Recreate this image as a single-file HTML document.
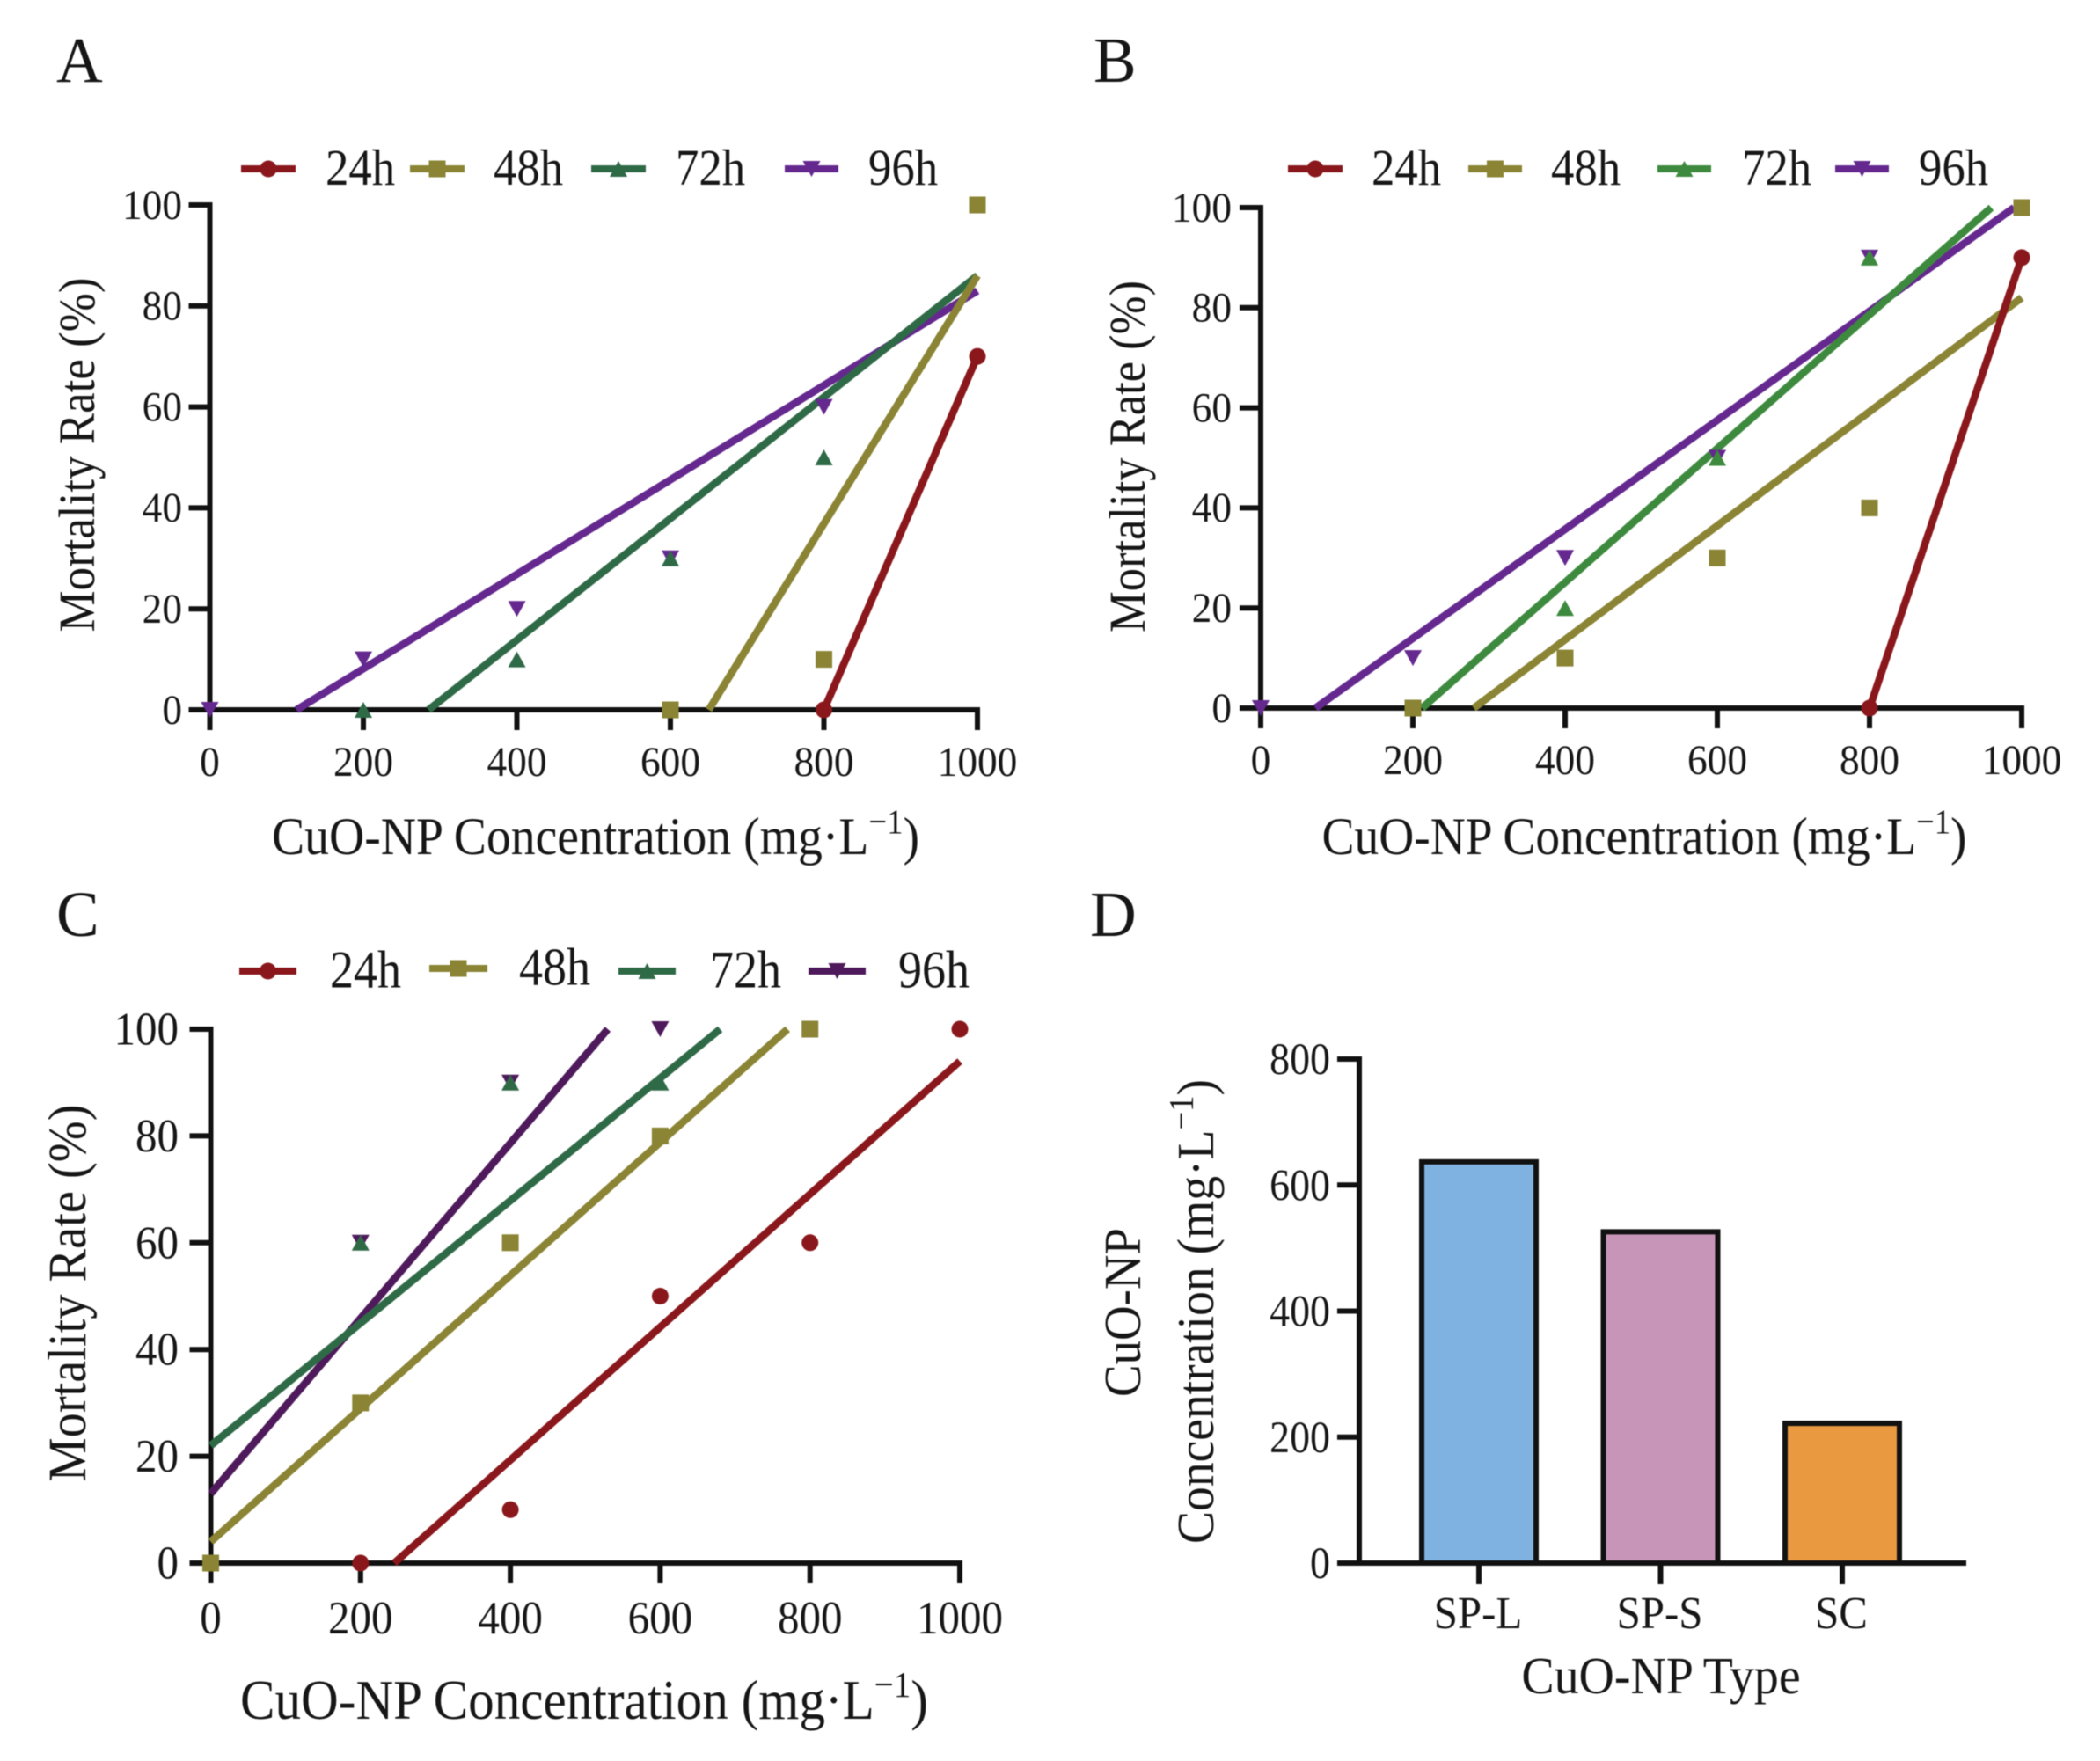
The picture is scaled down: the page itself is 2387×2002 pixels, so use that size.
<!DOCTYPE html>
<html>
<head>
<meta charset="utf-8">
<title>CuO-NP mortality charts</title>
<style>
html,body{margin:0;padding:0;background:#fff;}
svg{display:block;filter:blur(0.6px);}
text{font-family:"Liberation Serif",serif;fill:#161616;}
</style>
</head>
<body>
<svg id="figure" xmlns="http://www.w3.org/2000/svg" width="2387" height="2002" viewBox="0 0 2387 2002"></svg>
<script>
// Shared tick labels and series names
const concentrationTicks = [0, 200, 400, 600, 800, 1000];
const mortalityTicks = [0, 20, 40, 60, 80, 100];
const seriesNames = ['24h', '48h', '72h', '96h'];

// Panel A: measured points
const a24x = [800, 1000];
const a24y = [0, 70];
const a48x = [600, 800, 1000];
const a48y = [0, 10, 100];
const a72x = [200, 400, 600, 800];
const a72y = [0, 10, 30, 50];
const a96x = [0, 200, 400, 600, 800];
const a96y = [0, 10, 20, 30, 60];
// Panel A: fit lines
const a24fitX = [800, 1000];
const a24fitY = [0, 70];
const a48fitX = [650, 1000];
const a48fitY = [0, 86];
const a72fitX = [285, 1000];
const a72fitY = [0, 86];
const a96fitX = [113, 1000];
const a96fitY = [0, 83];

// Panel B: measured points
const b24x = [800, 1000];
const b24y = [0, 90];
const b48x = [200, 400, 600, 800, 1000];
const b48y = [0, 10, 30, 40, 100];
const b72x = [400, 600, 800];
const b72y = [20, 50, 90];
const b96x = [0, 200, 400, 600, 800];
const b96y = [0, 10, 30, 50, 90];
// Panel B: fit lines
const b24fitX = [800, 1000];
const b24fitY = [0, 90];
const b48fitX = [280, 1000];
const b48fitY = [0, 82];
const b72fitX = [212, 960];
const b72fitY = [0, 100];
const b96fitX = [72, 990];
const b96fitY = [0, 100];

// Panel C: measured points
const c24x = [200, 400, 600, 800, 1000];
const c24y = [0, 10, 50, 60, 100];
const c48x = [0, 200, 400, 600, 800];
const c48y = [0, 30, 60, 80, 100];
const c72x = [200, 400, 600];
const c72y = [60, 90, 90];
const c96x = [200, 400, 600];
const c96y = [60, 90, 100];
// Panel C: fit lines
const c24fitX = [245, 1000];
const c24fitY = [0, 94];
const c48fitX = [0, 770];
const c48fitY = [4, 100];
const c72fitX = [0, 680];
const c72fitY = [22, 100];
const c96fitX = [0, 530];
const c96fitY = [13, 100];

// Panel D: bars
const barCategories = ['SP-L', 'SP-S', 'SC'];
const barValues = [641, 530, 226];
const barTicks = [0, 200, 400, 600, 800];

const NS = 'http://www.w3.org/2000/svg';
const figure = document.getElementById('figure');

function make(parent, tag, attrs) {
  const el = document.createElementNS(NS, tag);
  for (const k in attrs) el.setAttribute(k, attrs[k]);
  parent.appendChild(el);
  return el;
}

// Reference glyphs are slightly condensed, so text is narrowed along its baseline.
function narrowText(parent, x, y, str, size, narrow, anchor) {
  const t = make(parent, 'text', {x: 0, y: 0, 'font-size': size, 'text-anchor': anchor, transform: 'translate(' + x + ' ' + y + ') scale(' + narrow + ' 1)'});
  t.textContent = str;
  return t;
}

function concTitle(parent, x, y, size, width, rotate) {
  const attrs = {x: x, y: y, 'font-size': size, 'text-anchor': 'middle', textLength: width, lengthAdjust: 'spacingAndGlyphs'};
  if (rotate) attrs.transform = 'rotate(-90 ' + x + ' ' + y + ')';
  const t = make(parent, 'text', attrs);
  
  
  const a = make(t, 'tspan', {});
  a.textContent = rotate ? 'Concentration (mg·L' : 'CuO-NP Concentration (mg·L';
  const b = make(t, 'tspan', {dy: -size * 0.4, 'font-size': size * 0.66});
  b.textContent = '−1';
  const c = make(t, 'tspan', {dy: size * 0.4});
  c.textContent = ')';
  return t;
}

function drawMarker(g, shape, color, px, py) {
  let el;
  if (shape === 'circle') {
    el = make(g, 'circle', {cx: px, cy: py, r: 9.5, fill: color});
  } else if (shape === 'square') {
    el = make(g, 'rect', {x: px - 9.5, y: py - 9.5, width: 19, height: 19, fill: color});
  } else if (shape === 'up') {
    el = make(g, 'polygon', {points: [px - 10, py + 9, px + 10, py + 9, px, py - 9].join(' '), fill: color});
  } else {
    el = make(g, 'polygon', {points: [px - 10, py - 9, px + 10, py - 9, px, py + 9].join(' '), fill: color});
  }
  
  
}

function drawLinePanel(cfg, series) {
  const g = make(figure, 'g', {});
  
  
  const sx = v => cfg.x0 + (cfg.x1 - cfg.x0) * v / 1000;
  const sy = v => cfg.y0 + (cfg.y1 - cfg.y0) * v / 100;

  const letter = make(g, 'text', {x: cfg.letterX, y: cfg.letterY, 'font-size': 73});
  
  
  letter.textContent = cfg.letter;

  // axes
  const yAxis = make(g, 'line', {x1: cfg.x0, x2: cfg.x0, y1: sy(100) - 3, y2: sy(0) + 23, stroke: '#111', 'stroke-width': 6});
  
  
  const xAxis = make(g, 'line', {x1: cfg.x0 - 24, x2: sx(1000) + 3, y1: sy(0), y2: sy(0), stroke: '#111', 'stroke-width': 6});
  
  

  mortalityTicks.forEach(v => {
    const tick = make(g, 'line', {x1: cfg.x0 - 24, x2: cfg.x0, y1: sy(v), y2: sy(v), stroke: '#111', 'stroke-width': 6});
    
    
    const label = narrowText(g, cfg.yLabelX, sy(v) + cfg.tickFont * 0.33, String(v), cfg.tickFont, cfg.tickNarrow, 'end');
    
    
  });
  concentrationTicks.forEach(v => {
    const tick = make(g, 'line', {x1: sx(v), x2: sx(v), y1: sy(0), y2: sy(0) + 23, stroke: '#111', 'stroke-width': 6});
    
    
    const label = narrowText(g, sx(v), cfg.xLabelY, String(v), cfg.tickFont, cfg.tickNarrow, 'middle');
    
    
  });

  // titles
  concTitle(g, cfg.xTitleX, cfg.xTitleY, cfg.xTitleFont, cfg.xTitleW, false);
  const yt = make(g, 'text', {x: cfg.yTitleX, y: cfg.yTitleY, 'font-size': cfg.yTitleFont, 'text-anchor': 'middle', textLength: cfg.yTitleW, lengthAdjust: 'spacingAndGlyphs', transform: 'rotate(-90 ' + cfg.yTitleX + ' ' + cfg.yTitleY + ')'});
  
  
  yt.textContent = 'Mortality Rate (%)';

  // fit lines: later series sit beneath earlier ones
  [series[3], series[2], series[1], series[0]].forEach(s => {
    const l = make(g, 'line', {x1: sx(s.fitX[0]), y1: sy(s.fitY[0]), x2: sx(s.fitX[1]), y2: sy(s.fitY[1]), stroke: s.color, 'stroke-width': 8.5});
    
    
  });
  // markers
  [series[3], series[2], series[1], series[0]].forEach(s => {
    s.x.forEach((xv, i) => drawMarker(g, s.shape, s.color, sx(xv), sy(s.y[i])));
  });

  // legend
  series.forEach((s, i) => {
    const lg = cfg.legend[i];
    const entry = make(g, 'g', {});
    
    
    const swatch = make(entry, 'line', {x1: lg[0], x2: lg[1], y1: lg[3], y2: lg[3], stroke: s.color, 'stroke-width': 8});
    
    
    drawMarker(entry, s.shape, s.color, (lg[0] + lg[1]) / 2, lg[3]);
    const txt = narrowText(entry, lg[2], lg[3] + cfg.legendFont * 0.31, seriesNames[i], cfg.legendFont, cfg.legendNarrow, 'start');
    
    
  });
}

const RED = '#8a171b';
const OLIVE = '#8a8434';
const GREEN = '#2f6a47';
const PURPLE = '#65288f';

drawLinePanel(
  {name: 'panel-a-chart', letter: 'A', letterX: 64, letterY: 93, x0: 238.5, x1: 1111, y0: 807, y1: 233,
   yLabelX: 207, xLabelY: 882, tickFont: 48, tickNarrow: 0.945, xTitleX: 677, xTitleY: 971, xTitleFont: 60, xTitleW: 736,
   yTitleX: 107, yTitleY: 517, yTitleFont: 58, yTitleW: 403, legendFont: 58, legendNarrow: 0.91,
   legend: [[274, 336, 370, 192], [466, 528, 561, 192], [672, 734, 768, 192], [892, 953, 987, 192]]},
  [{color: RED, shape: 'circle', x: a24x, y: a24y, fitX: a24fitX, fitY: a24fitY},
   {color: OLIVE, shape: 'square', x: a48x, y: a48y, fitX: a48fitX, fitY: a48fitY},
   {color: GREEN, shape: 'up', x: a72x, y: a72y, fitX: a72fitX, fitY: a72fitY},
   {color: PURPLE, shape: 'down', x: a96x, y: a96y, fitX: a96fitX, fitY: a96fitY}]
);

drawLinePanel(
  {name: 'panel-b-chart', letter: 'B', letterX: 1243, letterY: 93, x0: 1433, x1: 2298, y0: 805, y1: 236,
   yLabelX: 1400, xLabelY: 880, tickFont: 48, tickNarrow: 0.945, xTitleX: 1869, xTitleY: 971, xTitleFont: 60, xTitleW: 733,
   yTitleX: 1301, yTitleY: 519, yTitleFont: 58, yTitleW: 400, legendFont: 58, legendNarrow: 0.91,
   legend: [[1464, 1526, 1559, 192], [1669, 1730, 1763, 192], [1884, 1945, 1980, 192], [2086, 2147, 2181, 192]]},
  [{color: RED, shape: 'circle', x: b24x, y: b24y, fitX: b24fitX, fitY: b24fitY},
   {color: OLIVE, shape: 'square', x: b48x, y: b48y, fitX: b48fitX, fitY: b48fitY},
   {color: '#3d8a3e', shape: 'up', x: b72x, y: b72y, fitX: b72fitX, fitY: b72fitY},
   {color: PURPLE, shape: 'down', x: b96x, y: b96y, fitX: b96fitX, fitY: b96fitY}]
);

drawLinePanel(
  {name: 'panel-c-chart', letter: 'C', letterX: 64, letterY: 1064, x0: 239.5, x1: 1091, y0: 1777, y1: 1170,
   yLabelX: 203, xLabelY: 1857, tickFont: 53, tickNarrow: 0.925, xTitleX: 664, xTitleY: 1954, xTitleFont: 63, xTitleW: 782,
   yTitleX: 97, yTitleY: 1470, yTitleFont: 61, yTitleW: 429, legendFont: 60, legendNarrow: 0.9,
   legend: [[272, 337, 375, 1104], [488, 554, 590, 1101], [703, 768, 807, 1104], [919, 984, 1021, 1104]]},
  [{color: RED, shape: 'circle', x: c24x, y: c24y, fitX: c24fitX, fitY: c24fitY},
   {color: OLIVE, shape: 'square', x: c48x, y: c48y, fitX: c48fitX, fitY: c48fitY},
   {color: GREEN, shape: 'up', x: c72x, y: c72y, fitX: c72fitX, fitY: c72fitY},
   {color: '#4f1a5c', shape: 'down', x: c96x, y: c96y, fitX: c96fitX, fitY: c96fitY}]
);

// Panel D
(function () {
  const g = make(figure, 'g', {});
  
  
  const axisX = 1545, axisEnd = 2235, y0 = 1777, y800 = 1204;
  const sy = v => y0 + (y800 - y0) * v / 800;
  const firstCenter = 1681, step = 206.5, barW = 136;
  const sx = i => firstCenter + step * i;
  const colors = ['#7fb2e0', '#c795b7', '#e99a40'];

  const letter = make(g, 'text', {x: 1239, y: 1064, 'font-size': 73});
  
  
  letter.textContent = 'D';

  barValues.forEach((v, i) => {
    const r = make(g, 'rect', {x: sx(i) - barW / 2 + 3, y: sy(v) + 3, width: barW - 6, height: y0 - sy(v) - 3, fill: colors[i], stroke: '#111', 'stroke-width': 6});
    
    
  });

  const yAxis = make(g, 'line', {x1: axisX, x2: axisX, y1: sy(800) - 3, y2: y0, stroke: '#111', 'stroke-width': 6});
  
  
  const xAxis = make(g, 'line', {x1: axisX - 25, x2: axisEnd, y1: y0, y2: y0, stroke: '#111', 'stroke-width': 6});
  
  

  barTicks.forEach(v => {
    const tick = make(g, 'line', {x1: axisX - 25, x2: axisX, y1: sy(v), y2: sy(v), stroke: '#111', 'stroke-width': 6});
    
    
    const label = narrowText(g, 1512, sy(v) + 17, String(v), 51, 0.9, 'end');
    
    
  });
  barCategories.forEach((c, i) => {
    const tick = make(g, 'line', {x1: sx(i), x2: sx(i), y1: y0, y2: y0 + 24, stroke: '#111', 'stroke-width': 6});
    
    
    const label = narrowText(g, sx(i) - 1, 1851, c, 52, 0.94, 'middle');
    
    
  });

  const xt = narrowText(g, 1888, 1925, 'CuO-NP Type', 59, 0.947, 'middle');
  
  

  const yt = make(g, 'text', {x: 1296, y: 1492, 'font-size': 59, 'text-anchor': 'middle', textLength: 192, lengthAdjust: 'spacingAndGlyphs', transform: 'rotate(-90 1296 1492)'});
  
  
  yt.textContent = 'CuO-NP';
  concTitle(g, 1379, 1491, 59, 528, true);
})();
</script>
</body>
</html>
